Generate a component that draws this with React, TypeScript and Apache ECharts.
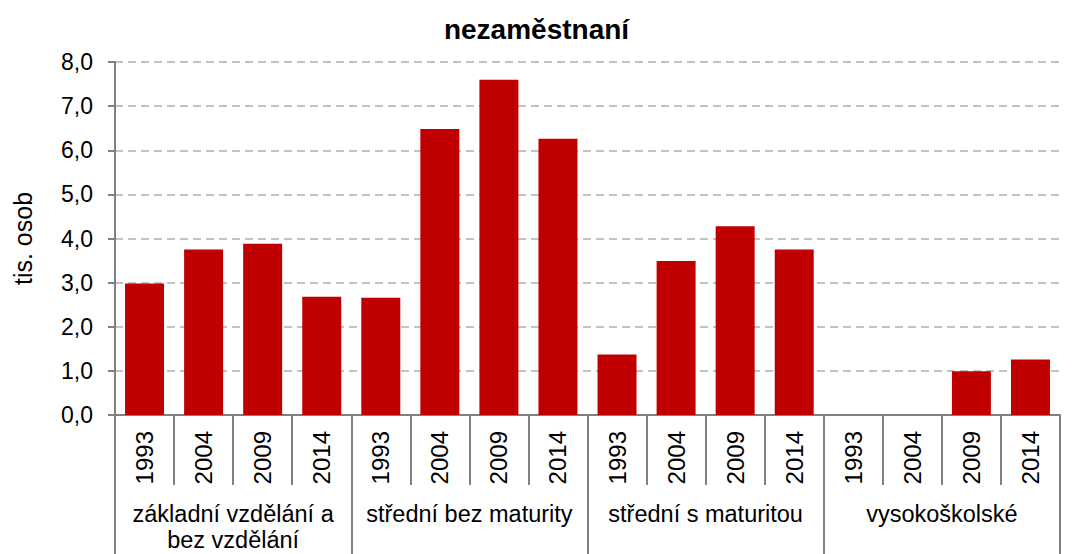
import React, { useEffect, useRef } from "react";
import * as echarts from "echarts";

const title = "nezaměstnaní";
const yAxisName = "tis. osob";
const groups = ["základní vzdělání a\nbez vzdělání", "střední bez maturity", "střední s maturitou", "vysokoškolské"];
const years = ["1993", "2004", "2009", "2014"];
const zakladni = [2.98, 3.75, 3.88, 2.68];
const stredniBez = [2.66, 6.48, 7.6, 6.26];
const stredniS = [1.37, 3.49, 4.28, 3.75];
const vysoko: (number | null)[] = [null, null, 0.99, 1.26];

const FONT = "'Liberation Sans', Arial, sans-serif";

export default function App() {
  const ref = useRef<HTMLDivElement>(null);
  useEffect(() => {
    if (!ref.current) return;
    const chart = echarts.init(ref.current, undefined, { renderer: "svg" });
    const yearCats: string[] = [];
    groups.forEach(() => years.forEach((y) => yearCats.push(y)));
    const values = [...zakladni, ...stredniBez, ...stredniS, ...vysoko];
    chart.setOption({
      animation: false,
      backgroundColor: "#ffffff",
      textStyle: { fontFamily: FONT },
      title: {
        text: title,
        left: "center",
        top: 10,
        textStyle: { fontFamily: FONT, fontSize: 28, fontWeight: "bold", color: "#000" },
      },
      grid: { left: 115, right: 13, top: 62, bottom: 139, containLabel: false },
      xAxis: [
        {
          type: "category",
          data: yearCats,
          position: "bottom",
          axisLine: { show: true, lineStyle: { color: "#808080", width: 2 } },
          axisTick: { show: true, interval: 0, length: 70, lineStyle: { color: "#808080", width: 2 } },
          axisLabel: { interval: 0, rotate: 90, margin: 16, fontSize: 24, color: "#000", fontFamily: FONT },
        },
        {
          type: "category",
          data: groups,
          position: "bottom",
          axisLine: { show: false },
          axisTick: { show: true, interval: 0, length: 150, lineStyle: { color: "#808080", width: 2 } },
          axisLabel: { interval: 0, margin: 86, fontSize: 23.5, lineHeight: 26, color: "#000", fontFamily: FONT },
        },
      ],
      yAxis: {
        type: "value",
        min: 0,
        max: 8,
        interval: 1,
        name: yAxisName,
        nameLocation: "middle",
        nameGap: 80,
        nameTextStyle: { fontSize: 25, color: "#000", fontFamily: FONT },
        axisLine: { show: true, lineStyle: { color: "#808080", width: 2 } },
        axisTick: { show: true, length: 7, lineStyle: { color: "#808080", width: 2 } },
        axisLabel: {
          margin: 22,
          fontSize: 23,
          color: "#000",
          fontFamily: FONT,
          formatter: (v: number) => v.toFixed(1).replace(".", ","),
        },
        splitLine: { show: true, lineStyle: { color: "#AFAFAF", width: 1.5, type: [8, 5] } },
      },
      series: [
        {
          type: "bar",
          xAxisIndex: 0,
          data: values,
          barCategoryGap: "34%",
          itemStyle: { color: "#C00000" },
        },
      ],
    });
    return () => chart.dispose();
  }, []);
  return <div ref={ref} style={{ width: 1073, height: 554, position: "absolute", left: 0, top: 0 }} />;
}
